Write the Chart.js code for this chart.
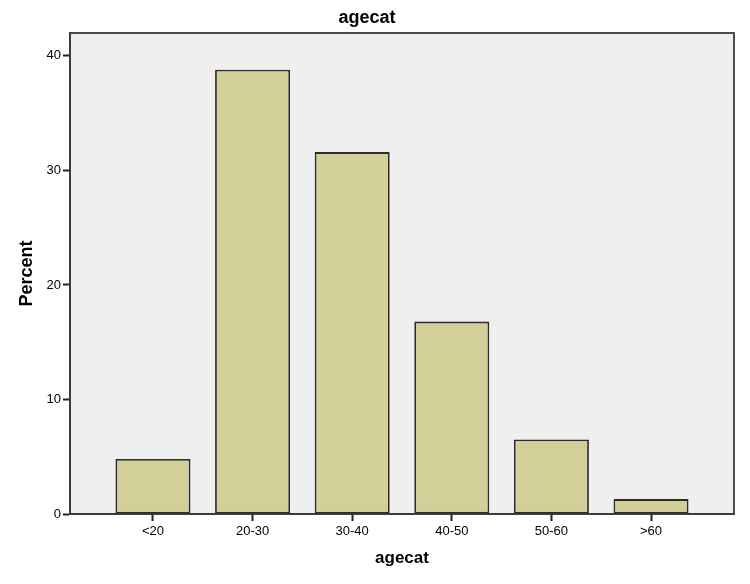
<!DOCTYPE html>
<html lang="en">
<head>
    <meta charset="UTF-8">
    <title>agecat</title>
    <script src="https://cdn.jsdelivr.net/npm/chart.js"></script>
    <style>
        body { margin: 0; background: #fff; }
    </style>
</head>
<body>
    <canvas id="chart-agecat" width="750" height="584"></canvas>

<script>
    // data
    const categorias = ['<20', '20-30', '30-40', '40-50', '50-60', '>60'];
    const percentuais = [4.8, 38.8, 31.6, 16.8, 6.5, 1.3];
    const yTicks = [0, 10, 20, 30, 40];

    const fonte = "'Liberation Sans', Arial, sans-serif";

    // fundo cinza da area do grafico + moldura
    const fundoPlot = {
        id: 'fundoPlot',
        beforeDraw(chart) {
            const ctx = chart.ctx;
            ctx.save();
            ctx.fillStyle = '#ffffff';
            ctx.fillRect(0, 0, chart.width, chart.height);
            const a = chart.chartArea;
            ctx.fillStyle = '#efefef';
            ctx.fillRect(a.left, a.top, a.right - a.left, a.bottom - a.top);
            ctx.restore();
        },
        afterDraw(chart) {
            const ctx = chart.ctx;
            const a = chart.chartArea;
            ctx.save();
            ctx.strokeStyle = '#3a3a3a';
            ctx.lineWidth = 1.8;
            ctx.strokeRect(a.left, a.top, a.right - a.left, a.bottom - a.top);
            ctx.restore();
        }
    };

    const ctxAge = document.getElementById('chart-agecat');

    new Chart(ctxAge, {
        type: 'bar',
        data: {
            datasets: [{
                label: 'Percent',
                data: percentuais.map((v, i) => ({ x: i, y: v })),
                backgroundColor: '#d3cf98',
                borderColor: '#2b2b2b',
                borderWidth: 1.8,
                borderSkipped: false,
                barPercentage: 0.753,
                categoryPercentage: 1
            }]
        },
        options: {
            responsive: false,
            animation: false,
            layout: {
                padding: { left: 0, right: 16, top: 0, bottom: 0 }
            },
            plugins: {
                legend: { display: false },
                tooltip: { enabled: false },
                title: {
                    display: true,
                    text: 'agecat',
                    color: '#000',
                    font: { family: fonte, size: 18, weight: 'bold' },
                    padding: { top: 7.7, bottom: 3.7 }
                }
            },
            scales: {
                x: {
                    type: 'linear',
                    min: -0.833,
                    max: 5.833,
                    offset: false,
                    afterFit: s => { s.height = 70; },
                    afterBuildTicks: s => { s.ticks = categorias.map((c, i) => ({ value: i })); },
                    ticks: {
                        color: '#000',
                        font: { family: fonte, size: 13 },
                        padding: 3,
                        maxRotation: 0,
                        autoSkip: false,
                        callback: v => categorias[v] ?? ''
                    },
                    grid: {
                        offset: false,
                        drawOnChartArea: false,
                        drawTicks: true,
                        tickLength: 7,
                        tickColor: '#222',
                        tickWidth: 2
                    },
                    border: { display: true, color: '#3a3a3a', width: 1.8 },
                    title: {
                        display: true,
                        text: 'agecat',
                        color: '#000',
                        font: { family: fonte, size: 17, weight: 'bold' },
                        padding: { top: 0, bottom: 15.8 }
                    }
                },
                y: {
                    min: 0,
                    max: 42,
                    afterFit: s => { s.width = 70; },
                    afterBuildTicks: s => { s.ticks = yTicks.map(v => ({ value: v })); },
                    ticks: {
                        color: '#000',
                        font: { family: fonte, size: 13 },
                        padding: 2
                    },
                    grid: {
                        drawOnChartArea: false,
                        drawTicks: true,
                        tickLength: 7,
                        tickColor: '#222',
                        tickWidth: 2
                    },
                    border: { display: true, color: '#3a3a3a', width: 1.8 },
                    title: {
                        display: true,
                        text: 'Percent',
                        color: '#000',
                        font: { family: fonte, size: 18, weight: 'bold' },
                        padding: { top: 16, bottom: 0 }
                    }
                }
            }
        },
        plugins: [fundoPlot]
    });
</script>
</body>
</html>
